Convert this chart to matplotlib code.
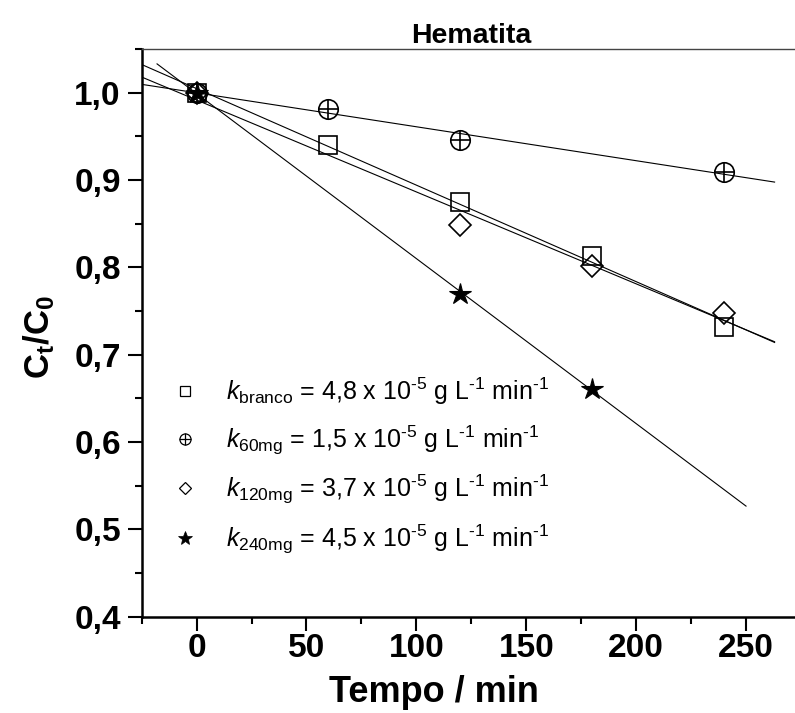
import numpy as np
import matplotlib
matplotlib.use('Agg')
import matplotlib.pyplot as plt
from matplotlib.lines import Line2D
from matplotlib.ticker import MultipleLocator, FuncFormatter

plt.rcParams['font.family'] = ['Liberation Sans', 'DejaVu Sans']
plt.rcParams['mathtext.fontset'] = 'custom'
plt.rcParams['mathtext.rm'] = 'Liberation Sans'
plt.rcParams['mathtext.it'] = 'Liberation Sans:italic'
plt.rcParams['mathtext.bf'] = 'Liberation Sans:bold'

# data
t_branco = [0, 60, 120, 180, 240]
c_branco = [1.0, 0.940, 0.875, 0.813, 0.732]
t_60 = [0, 60, 120, 240]
c_60 = [1.0, 0.981, 0.946, 0.909]
t_120 = [0, 120, 180, 240]
c_120 = [1.0, 0.849, 0.801, 0.748]
t_240 = [0, 120, 180]
c_240 = [1.0, 0.769, 0.661]

hy = '\u2010'
labels = [
    r'$k_{\mathrm{branco}}$ = 4,8 x 10$^{\mathrm{%s5}}$ g L$^{\mathrm{%s1}}$ min$^{\mathrm{%s1}}$' % (hy, hy, hy),
    r'$k_{\mathrm{60mg}}$ = 1,5 x 10$^{\mathrm{%s5}}$ g L$^{\mathrm{%s1}}$ min$^{\mathrm{%s1}}$' % (hy, hy, hy),
    r'$k_{\mathrm{120mg}}$ = 3,7 x 10$^{\mathrm{%s5}}$ g L$^{\mathrm{%s1}}$ min$^{\mathrm{%s1}}$' % (hy, hy, hy),
    r'$k_{\mathrm{240mg}}$ = 4,5 x 10$^{\mathrm{%s5}}$ g L$^{\mathrm{%s1}}$ min$^{\mathrm{%s1}}$' % (hy, hy, hy),
]

fig = plt.figure(figsize=(7.95, 7.13), dpi=100)
ax = fig.add_axes([0.1782, 0.1351, 0.8293, 0.7962])

# linear fits
fits = [(t_branco, c_branco, -25, 263),
        (t_60, c_60, -25, 263),
        (t_120, c_120, -25, 263),
        (t_240, c_240, -18, 250)]
for t, c, x0, x1 in fits:
    p = np.polyfit(t, c, 1)
    xx = np.array([x0, x1])
    ax.plot(xx, np.polyval(p, xx), color='black', lw=0.8, zorder=2)

mk = dict(color='black', ls='none', zorder=3)
ax.plot(t_branco, c_branco, marker='s', ms=12.5, mfc='none', mew=1.2, **mk)
ax.plot(t_60, c_60, marker='o', ms=14, mfc='none', mew=1.2, **mk)
ax.plot(t_60, c_60, marker='+', ms=14, mew=1.2, **mk)
ax.plot(t_120, c_120, marker='D', ms=11.5, mfc='none', mew=1.2, **mk)
ax.plot(t_240, c_240, marker='*', ms=16, mfc='black', mew=0.8, **mk)

h_sq = Line2D([], [], marker='s', ms=7, mfc='none', mew=0.9, **mk)
h_c = (Line2D([], [], marker='o', ms=8, mfc='none', mew=0.9, **mk),
       Line2D([], [], marker='+', ms=8, mew=0.9, **mk))
h_d = Line2D([], [], marker='D', ms=6.5, mfc='none', mew=0.9, **mk)
h_s = Line2D([], [], marker='*', ms=10, mfc='black', mew=0.5, **mk)
ax.legend([h_sq, h_c, h_d, h_s], labels, loc='upper left',
          bbox_to_anchor=(0.009, 0.464), frameon=False, fontsize=18,
          handlelength=1.2, handletextpad=1.05, labelspacing=0.66)

ax.set_xlim(-25, 275)
ax.set_ylim(0.4, 1.05)
ax.xaxis.set_major_locator(MultipleLocator(50))
ax.xaxis.set_minor_locator(MultipleLocator(25))
ax.yaxis.set_major_locator(MultipleLocator(0.1))
ax.yaxis.set_minor_locator(MultipleLocator(0.05))
ax.yaxis.set_major_formatter(FuncFormatter(lambda v, p: f'{v:.1f}'.replace('.', ',')))

ax.tick_params(which='major', direction='out', length=10, width=1.5,
               labelsize=24)
ax.tick_params(axis='x', which='major', pad=2)
ax.tick_params(axis='y', which='major', pad=5)
ax.tick_params(which='minor', direction='out', length=5, width=1.5)
for lab in ax.get_xticklabels() + ax.get_yticklabels():
    lab.set_fontweight('bold')

for s in ['left', 'bottom']:
    ax.spines[s].set_linewidth(1.8)
ax.spines['top'].set_linewidth(1.0)
ax.spines['top'].set_color('#444444')
ax.spines['right'].set_visible(False)

ax.set_xlabel('Tempo / min', fontsize=26, fontweight='bold')
ax.xaxis.set_label_coords(0.443, -0.103)
ax.set_ylabel(r'$\mathbf{C_t/C_0}$', fontsize=25)
ax.yaxis.set_label_coords(-0.128, 0.493)
ax.set_title('Hematita', fontsize=20.5, fontweight='bold', pad=4)

fig.savefig('out.png', dpi=100)
